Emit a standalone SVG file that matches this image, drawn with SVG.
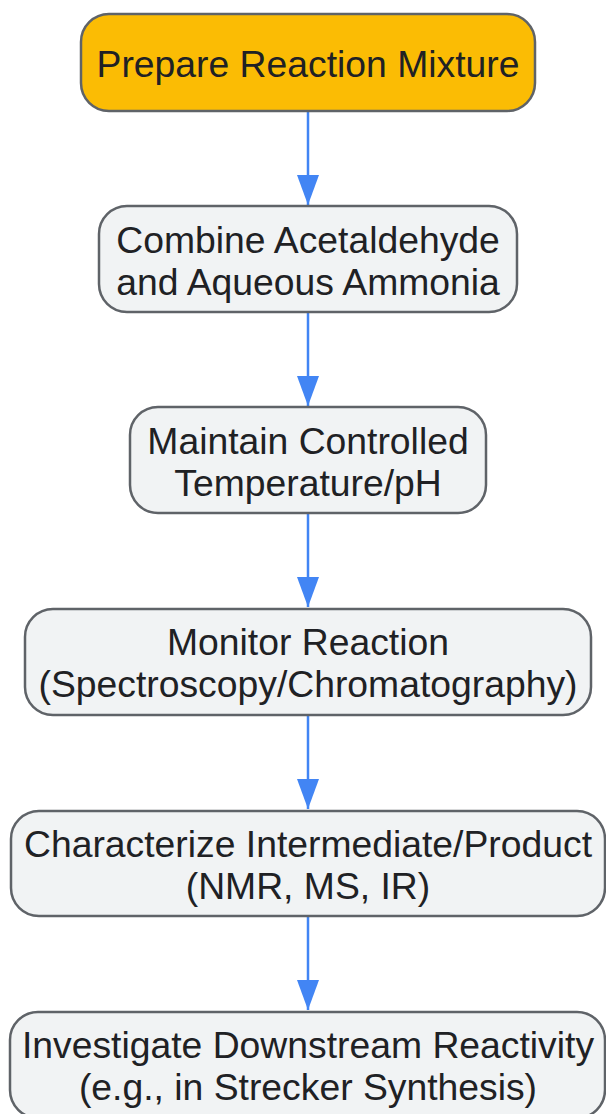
<svg xmlns="http://www.w3.org/2000/svg" width="606" height="1114" viewBox="0 0 606 1114">
<style>
.box{fill:#f1f3f4;stroke:#5f6368;stroke-width:2.5}
.start{fill:#fbbc04;stroke:#5f6368;stroke-width:2.5}
.lbl{font-family:"Liberation Sans",Arial,sans-serif;font-size:37.3px;fill:#202124;text-anchor:middle}
.edge{stroke:#4285f4;stroke-width:2.5;fill:none}
</style>
<defs>
<marker id="arr" markerUnits="userSpaceOnUse" markerWidth="32" markerHeight="24" refX="30" refY="11" orient="auto">
<path d="M0,0 L30,11 L0,22 Z" fill="#4285f4"/>
</marker>
</defs>
<rect width="606" height="1114" fill="#ffffff"/>
<g id="connectors">
<line class="edge" x1="308" y1="111" x2="308" y2="205" marker-end="url(#arr)"/>
<line class="edge" x1="308" y1="312" x2="308" y2="406" marker-end="url(#arr)"/>
<line class="edge" x1="308" y1="513" x2="308" y2="607" marker-end="url(#arr)"/>
<line class="edge" x1="308" y1="715" x2="308" y2="809" marker-end="url(#arr)"/>
<line class="edge" x1="308" y1="916" x2="308" y2="1010" marker-end="url(#arr)"/>
</g>
<g id="n1">
<rect class="start" x="81" y="14" width="454" height="97" rx="28"/>
<text class="lbl" x="308" y="77">Prepare Reaction Mixture</text>
</g>
<g id="n2">
<rect class="box" x="99" y="206" width="418" height="106" rx="28"/>
<text class="lbl" x="308" y="253">Combine Acetaldehyde</text>
<text class="lbl" x="308" y="295">and Aqueous Ammonia</text>
</g>
<g id="n3">
<rect class="box" x="130" y="407" width="356" height="106" rx="28"/>
<text class="lbl" x="308" y="454">Maintain Controlled</text>
<text class="lbl" x="308" y="496">Temperature/pH</text>
</g>
<g id="n4">
<rect class="box" x="25" y="609" width="566" height="106" rx="28"/>
<text class="lbl" x="308" y="655">Monitor Reaction</text>
<text class="lbl" x="308" y="697">(Spectroscopy/Chromatography)</text>
</g>
<g id="n5">
<rect class="box" x="11" y="811" width="594" height="105" rx="28"/>
<text class="lbl" x="308" y="857">Characterize Intermediate/Product</text>
<text class="lbl" x="308" y="899">(NMR, MS, IR)</text>
</g>
<g id="n6">
<rect class="box" x="10" y="1012" width="595" height="106" rx="28"/>
<text class="lbl" x="308" y="1058">Investigate Downstream Reactivity</text>
<text class="lbl" x="308" y="1100">(e.g., in Strecker Synthesis)</text>
</g>
</svg>
